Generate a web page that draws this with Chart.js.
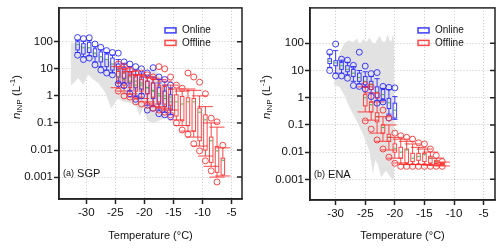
<!DOCTYPE html>
<html>
<head>
<meta charset="utf-8">
<script src="https://cdn.jsdelivr.net/npm/chart.js@4.4.0/dist/chart.umd.min.js"></script>
<style>
  body { margin: 0; background: #fff; }
  #wrap { position: relative; width: 500px; height: 248px; }
  canvas { position: absolute; top: 0; }
  #sgp { left: 0; }
  #ena { left: 250px; }
</style>
</head>
<body>
<div id="wrap">
  <canvas id="sgp" width="250" height="248"></canvas>
  <canvas id="ena" width="250" height="248"></canvas>
</div>
<script>
// columns: temperature, low circle, whisker low, q1, median, q3, whisker high, high circle
const sgpOnline = [
  [-31.5, 32, 40, 50, 80, 100, 115, 143],
  [-30.5, 22, 28, 35, 60, 85, 105, 130],
  [-29.5, 25, 30, 40, 60, 95, 110, 140],
  [-28.5, 14, 18, 28, 38, 55, 65, 82],
  [-27.5, 9, 12, 18, 28, 42, 50, 62],
  [-26.5, 7, 9, 12, 22, 35, 40, 47],
  [-25.5, 6, 7, 9, 15, 25, 32, 40],
  [-24.5, 2.8, 3, 5, 9, 15, 22, 38],
  [-23.5, 2.4, 3, 4.5, 7, 11, 16, 18],
  [-22.5, 1.2, 1.6, 3, 5, 8, 12, 15],
  [-21.5, 0.75, 1, 2, 3.5, 6, 9, 12],
  [-20.5, 1.0, 1.2, 1.8, 3, 5, 7, 10],
  [-19.5, 0.3, 0.45, 1.2, 2, 3.5, 5, 7],
  [-18.5, 0.35, 0.4, 0.8, 1.5, 3, 5, 11],
  [-17.5, 0.22, 0.3, 0.5, 1, 2, 3, 5],
  [-16.5, 0.2, 0.25, 0.4, 0.8, 1.5, 2.5, 4],
  [-15.5, 0.17, 0.2, 0.3, 0.6, 1.1, 1.8, 2.5]
];
const sgpOffline = [
  [-24.5, 1.5, 2, 3, 5, 8, 12, 15],
  [-23.5, 1.0, 1.5, 2.5, 4, 7, 10, 12],
  [-22.5, 0.9, 1.2, 2, 3.5, 5.5, 8, 9],
  [-21.5, 0.6, 0.9, 1.5, 2.5, 5, 6, 7],
  [-20.5, 0.5, 0.8, 1.5, 2.5, 4, 6, 7],
  [-19.5, 0.45, 0.6, 1.2, 2, 3.5, 5, 6],
  [-18.5, 0.35, 0.5, 0.9, 1.6, 3, 4.5, 5],
  [-17.5, 0.3, 0.4, 0.6, 1.2, 2.5, 4, 12],
  [-16.5, 0.25, 0.35, 0.5, 1, 2.2, 3.5, 10],
  [-15.5, 0.2, 0.3, 0.45, 0.9, 1.8, 2.5, 5],
  [-14.5, 0.1, 0.13, 0.18, 0.6, 1.1, 1.8, 2.5],
  [-13.5, 0.055, 0.08, 0.12, 0.5, 0.95, 1.5, 1.9],
  [-12.5, 0.038, 0.05, 0.08, 0.6, 0.85, 1.8, 7],
  [-11.5, 0.017, 0.03, 0.05, 0.6, 0.8, 1.6, 5],
  [-10.5, 0.0093, 0.014, 0.022, 0.25, 0.35, 1.0, 3.2],
  [-9.5, 0.004, 0.006, 0.01, 0.13, 0.2, 0.4, 1.2],
  [-8.5, 0.0017, 0.0025, 0.0035, 0.022, 0.03, 0.1, 0.15],
  [-7.5, 0.00066, 0.001, 0.0015, 0.0093, 0.0135, 0.07, 0.11],
  [-6.5, null, 0.0011, 0.0012, 0.0042, 0.005, 0.012, 0.015]
];
const enaOnline = [
  [-31, 10, 13, 18, 22, 27, 40, 47],
  [-30, 6.3, 8, 15, 19, 23, 54, 94],
  [-29, 6.3, 8, 11, 15, 20, 24, 26],
  [-28, 5.2, 7, 9, 11, 15, 20, 24],
  [-27, 2.8, 4, 6, 8, 11, 14, 15.5],
  [-26, 2.6, 3.2, 4, 5.5, 8, 10, 47],
  [-25, 2.1, 2.5, 3, 4, 6, 9, 14.5],
  [-24, 1.1, 1.5, 2, 3, 4, 6, 7.7],
  [-23, 0.63, 0.8, 1, 1.6, 2.5, 5, 8.4],
  [-22, 0.7, 0.8, 0.9, 1.3, 2, 2.2, 2.6],
  [-21, 0.18, 0.25, 0.4, 0.65, 0.95, 2, 2.4],
  [-20, null, 0.16, 0.18, 0.35, 0.63, 1.1, 2.3]
];
const enaOffline = [
  [-25, 0.14, 0.3, 0.5, 1.0, 1.3, 2.5, 3],
  [-24, 0.07, 0.15, 0.3, 0.55, 0.7, 1.5, 2.5],
  [-23, 0.028, 0.05, 0.13, 0.2, 0.28, 0.7, 1.2],
  [-22, 0.013, 0.025, 0.05, 0.08, 0.1, 0.2, 0.35],
  [-21, 0.0065, 0.012, 0.025, 0.035, 0.045, 0.1, 0.18],
  [-20, 0.0039, 0.006, 0.01, 0.014, 0.02, 0.035, 0.05],
  [-19, 0.003, 0.004, 0.006, 0.01, 0.015, 0.03, 0.04],
  [-18, 0.003, 0.0035, 0.004, 0.012, 0.013, 0.025, 0.035],
  [-17, 0.003, 0.0035, 0.0045, 0.006, 0.009, 0.02, 0.03],
  [-16, 0.003, 0.0035, 0.005, 0.007, 0.009, 0.015, 0.022],
  [-15, 0.003, 0.0035, 0.0045, 0.008, 0.009, 0.013, 0.02],
  [-14, 0.003, 0.0033, 0.004, 0.006, 0.007, 0.01, 0.013],
  [-13, 0.003, 0.0033, 0.0038, 0.0045, 0.005, 0.006, 0.0075],
  [-12, 0.003, 0.0031, 0.0033, 0.0037, 0.0042, 0.0043, 0.0045]
];

// gray band: [temperature, value] along its upper and lower edges
const sgpBandTop = [
  [-32.7, 95], [-31.5, 85], [-30.5, 75], [-29.5, 60], [-28.5, 42], [-27.5, 30],
  [-26.5, 22], [-25.5, 16], [-24.5, 12], [-23.5, 10], [-22.5, 8.5], [-21.5, 7.5],
  [-20.5, 6.5], [-19.6, 5], [-19.2, 2], [-18.8, 12], [-18, 10], [-17.3, 4],
  [-16.5, 2], [-15.5, 1], [-14.8, 0.6]
];
const sgpBandBottom = [
  [-32.7, 2.5], [-32.5, 2.5], [-31.4, 4.6], [-30.5, 2.5], [-29.7, 6.1], [-28.8, 4],
  [-27.9, 2.9], [-26.8, 1.4], [-25.7, 0.34], [-24.6, 0.78], [-23.5, 0.6], [-22.5, 0.55],
  [-21.5, 0.45], [-20.8, 0.18], [-20.2, 0.4], [-19.5, 0.12], [-18.5, 0.1], [-17.5, 0.12],
  [-16.5, 0.15], [-15.5, 0.25], [-14.8, 0.3]
];
const enaBandTop = [
  [-30.3, 3], [-29.8, 20], [-29.3, 47], [-28.5, 100], [-27.8, 130], [-27.1, 110],
  [-26.4, 150], [-26, 95], [-25.3, 140], [-24.8, 110], [-24.3, 165], [-23.8, 110],
  [-23.4, 95], [-22.6, 190], [-22.1, 120], [-21.7, 110], [-21.2, 215], [-20.9, 130],
  [-20.6, 120], [-20.3, 215], [-20.1, 100]
];
const enaBandBottom = [
  [-30.3, 3], [-29.3, 2.5], [-28.5, 1.2], [-27.6, 0.42], [-26.5, 0.15], [-25.4, 0.046],
  [-24.3, 0.011], [-23.7, 0.0016], [-23.3, 0.005], [-22.9, 0.0037], [-22.3, 0.0012],
  [-21.5, 0.0021], [-20.6, 0.0011], [-20.1, 0.001]
];

const xTicks = [-30, -25, -20, -15, -10, -5];
const yTicks = [0.001, 0.01, 0.1, 1, 10, 100];
const yTickLabels = ['0.001', '0.01', '0.1', '1', '10', '100'];
const seriesNames = ['Online', 'Offline'];
const xTitle = 'Temperature (°C)';

const FONT = "'Liberation Sans', Arial, sans-serif";
Chart.defaults.font.family = FONT;
Chart.defaults.color = '#111';

const BLUE = 'rgba(40,40,255,0.9)';
const RED = 'rgba(255,40,40,0.85)';
const GREEN = '#3cb043';
const GRAY = '#e2e2e2';

function circlePoints(rows) {
  const pts = [];
  rows.forEach(r => {
    if (r[1] != null) pts.push({x: r[0], y: r[1]});
    if (r[7] != null) pts.push({x: r[0], y: r[7]});
  });
  return pts;
}
const bandPoints = arr => arr.map(p => ({x: p[0], y: p[1]}));

function drawYTitle(ctx, cx, cy) {
  const parts = [
    {t: 'n', f: 'italic 11.5px ' + FONT, dy: 0},
    {t: 'INP', f: '8px ' + FONT, dy: 3},
    {t: ' (L', f: '11.5px ' + FONT, dy: 0},
    {t: '-1', f: '8px ' + FONT, dy: -4},
    {t: ')', f: '11.5px ' + FONT, dy: 0}
  ];
  ctx.save();
  ctx.translate(cx, cy);
  ctx.rotate(-Math.PI / 2);
  let w = 0;
  parts.forEach(p => { ctx.font = p.f; p.w = ctx.measureText(p.t).width; w += p.w; });
  let px = -w / 2;
  ctx.textBaseline = 'middle';
  ctx.textAlign = 'left';
  ctx.fillStyle = '#111';
  parts.forEach(p => { ctx.font = p.f; ctx.fillText(p.t, px, p.dy); px += p.w; });
  ctx.restore();
}

function makePanel(id, cfg) {
  const series = [
    {name: seriesNames[0], color: BLUE, rows: cfg.online, cap: 0.45},
    {name: seriesNames[1], color: RED, rows: cfg.offline, cap: 1.3}
  ];

  const boxes = {
    id: 'boxes',
    beforeDatasetsDraw(chart) {
      const {ctx, chartArea: a, scales: {x, y}} = chart;
      ctx.save();
      ctx.beginPath();
      ctx.rect(a.left, a.top, a.right - a.left, a.bottom - a.top);
      ctx.clip();
      ctx.lineWidth = 1;
      series.forEach(s => {
        s.rows.forEach(r => {
          const [t, , wlo, q1, med, q3, whi] = r;
          const cx = x.getPixelForValue(t);
          const bw = x.getPixelForValue(t + 0.3) - cx;
          const cw = x.getPixelForValue(t + s.cap) - cx;
          const yw1 = y.getPixelForValue(wlo), yq1 = y.getPixelForValue(q1);
          const ym = y.getPixelForValue(med), yq3 = y.getPixelForValue(q3);
          const yw2 = y.getPixelForValue(whi);
          ctx.strokeStyle = s.color;
          ctx.beginPath();
          ctx.moveTo(cx, yw1); ctx.lineTo(cx, yq1);
          ctx.moveTo(cx, yq3); ctx.lineTo(cx, yw2);
          ctx.moveTo(cx - cw, yw1); ctx.lineTo(cx + cw, yw1);
          ctx.moveTo(cx - cw, yw2); ctx.lineTo(cx + cw, yw2);
          ctx.stroke();
          ctx.strokeRect(cx - bw, yq3, 2 * bw, yq1 - yq3);
          ctx.strokeStyle = GREEN;
          ctx.beginPath();
          ctx.moveTo(cx - bw + 0.5, ym); ctx.lineTo(cx + bw - 0.5, ym);
          ctx.stroke();
        });
      });
      ctx.restore();
    },
    afterDraw(chart) {
      const {ctx, chartArea: a, scales: {y}} = chart;
      ctx.save();
      // frame and inner ticks on the right side
      ctx.strokeStyle = '#222';
      ctx.lineWidth = 1.5;
      ctx.strokeRect(a.left, a.top, a.right - a.left, a.bottom - a.top);
      ctx.beginPath();
      yTicks.forEach(v => {
        const py = y.getPixelForValue(v);
        ctx.moveTo(a.right - 5, py); ctx.lineTo(a.right, py);
      });
      ctx.stroke();
      // legend
      ctx.textBaseline = 'middle';
      ctx.textAlign = 'left';
      series.forEach((s, i) => {
        const ly = a.top + 22.5 + i * 12.5;
        const lx = a.right - 77;
        ctx.strokeStyle = s.color;
        ctx.lineWidth = 1.5;
        ctx.strokeRect(lx, ly - 2.5, 11, 5);
        ctx.fillStyle = '#111';
        ctx.font = '10px ' + FONT;
        ctx.fillText(s.name, lx + 17, ly);
      });
      // panel label
      ctx.font = '9px ' + FONT;
      ctx.fillText(cfg.tag, a.left + 4, a.bottom - 25);
      const tw = ctx.measureText(cfg.tag).width;
      ctx.font = '11px ' + FONT;
      ctx.fillText(' ' + cfg.site, a.left + 4 + tw, a.bottom - 25);
      ctx.restore();
      drawYTitle(ctx, 17, 97);
    }
  };

  const datasets = [
    {data: circlePoints(cfg.online), showLine: false, pointRadius: 3, pointBorderWidth: 1,
     pointBorderColor: BLUE, pointBackgroundColor: 'rgba(0,0,0,0)', order: 1},
    {data: circlePoints(cfg.offline), showLine: false, pointRadius: 3, pointBorderWidth: 1,
     pointBorderColor: RED, pointBackgroundColor: 'rgba(0,0,0,0)', order: 0},
    {data: bandPoints(cfg.bandBottom), pointRadius: 0, borderColor: 'rgba(0,0,0,0)',
     fill: false, order: 5},
    {data: bandPoints(cfg.bandTop), pointRadius: 0, borderColor: 'rgba(0,0,0,0)',
     backgroundColor: GRAY, fill: '-1', order: 6}
  ];

  return new Chart(document.getElementById(id), {
    type: 'line',
    data: {datasets},
    plugins: [boxes],
    options: {
      responsive: false,
      animation: false,
      devicePixelRatio: 1,
      events: [],
      layout: {padding: {top: 5, right: cfg.padRight, left: 0, bottom: 0}},
      plugins: {
        legend: {display: false},
        tooltip: {enabled: false},
        filler: {drawTime: 'beforeDatasetsDraw'}
      },
      scales: {
        x: {
          type: 'linear', min: cfg.xMin, max: cfg.xMax,
          afterBuildTicks: s => { s.ticks = xTicks.map(v => ({value: v})); },
          afterFit: s => { s.height = cfg.xAxisH; },
          ticks: {font: {size: 11.5}, padding: 2, maxRotation: 0, autoSkip: false,
                  callback: v => String(v)},
          grid: {color: 'rgba(0,0,0,0.22)', tickColor: '#222', tickLength: 5, tickWidth: 1.5},
          border: {color: '#222', width: 1.5, dash: [1, 2]},
          title: {display: true, text: xTitle, font: {size: 11}, padding: {top: 0, bottom: 5}}
        },
        y: {
          type: 'logarithmic', min: cfg.yMin, max: cfg.yMax,
          afterBuildTicks: s => { s.ticks = yTicks.map(v => ({value: v})); },
          afterFit: s => { s.width = cfg.yAxisW; },
          ticks: {font: {size: 11.5}, padding: 1, autoSkip: false,
                  callback: v => yTickLabels[yTicks.indexOf(v)]},
          grid: {color: 'rgba(0,0,0,0.22)', tickColor: '#222', tickLength: 5, tickWidth: 1.5},
          border: {color: '#222', width: 1.5, dash: [1, 2]}
        }
      }
    }
  });
}

makePanel('sgp', {
  online: sgpOnline, offline: sgpOffline, bandTop: sgpBandTop, bandBottom: sgpBandBottom,
  tag: '(a)', site: 'SGP',
  xMin: -34.7, xMax: -3.2, yMin: 1.55e-4, yMax: 1780,
  yAxisW: 59, xAxisH: 49, padRight: 8
});
makePanel('ena', {
  online: enaOnline, offline: enaOffline, bandTop: enaBandTop, bandBottom: enaBandBottom,
  tag: '(b)', site: 'ENA',
  xMin: -34.33, xMax: -3.08, yMin: 1.74e-4, yMax: 2000,
  yAxisW: 60, xAxisH: 48, padRight: 4
});
</script>
</body>
</html>
